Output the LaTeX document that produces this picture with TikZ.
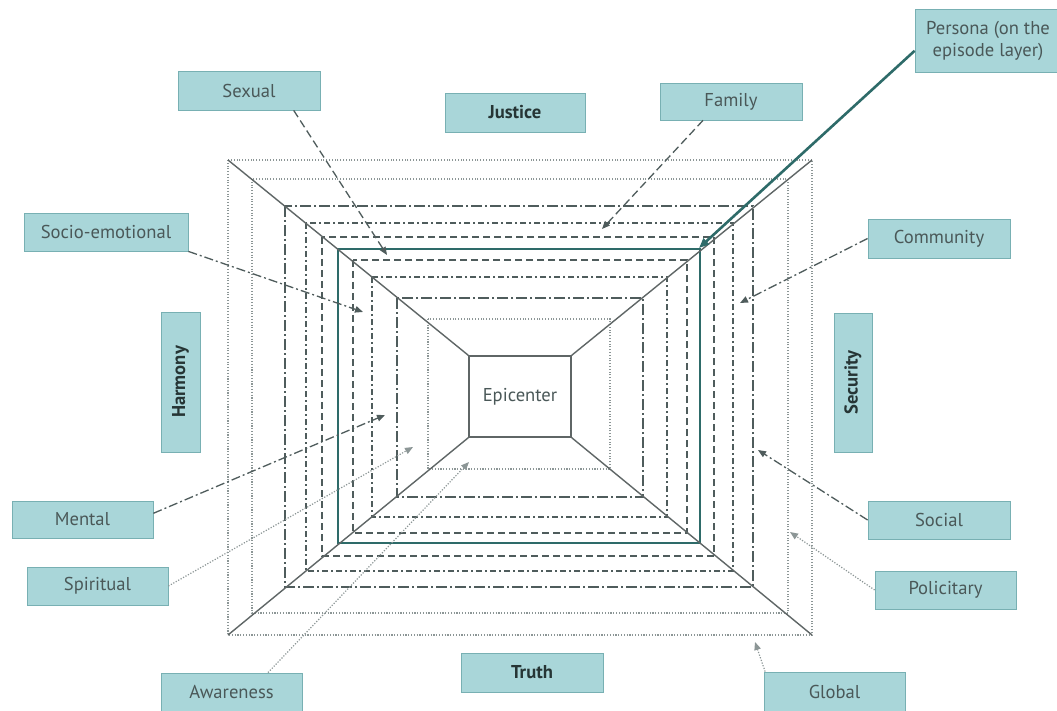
\documentclass[tikz,border=0pt]{standalone}
\usepackage{fontspec}
\setmainfont{PT Sans}
\usetikzlibrary{arrows.meta}
\definecolor{boxfill}{HTML}{A9D6D9}
\definecolor{boxdraw}{HTML}{78B0B3}
\definecolor{txt}{HTML}{4A5858}
\definecolor{txtb}{HTML}{263535}
\definecolor{ln}{HTML}{4F5C5C}
\definecolor{dotc}{HTML}{8C9696}
\definecolor{thickc}{HTML}{2E6B69}
\definecolor{diag}{HTML}{5F6666}
\begin{document}
\begin{tikzpicture}[x=1pt,y=-1pt,
  lbl/.style={draw=boxdraw,fill=boxfill,line width=0.8pt,text=txt,
    font=\fontsize{18.6}{22}\selectfont,inner sep=0pt,align=center},
  blbl/.style={lbl,text=txtb,font=\fontsize{18.6}{22}\selectfont\bfseries},
  dotline/.style={draw=dotc,line width=1.1pt,dash pattern=on 1.1pt off 1.7pt},
  ddlong/.style={draw=ln,line width=1.4pt,dash pattern=on 11pt off 3pt on 2pt off 3pt},
  ddshort/.style={draw=ln,line width=1.4pt,dash pattern=on 6pt off 3pt on 2pt off 3pt},
  dashline/.style={draw=ln,line width=1.4pt,dash pattern=on 7pt off 4pt},
  thickline/.style={draw=thickc,line width=2.8pt},
  diagline/.style={draw=diag,line width=1.4pt},
  tip/.style={-{Triangle[length=8pt,width=6.5pt]}},
  conn/.style={tip,draw=ln,line width=1.3pt},
  cdash/.style={conn,dash pattern=on 8pt off 4pt},
  cdd/.style={conn,dash pattern=on 9pt off 3pt on 2pt off 3pt},
  cdot/.style={tip,draw=dotc,line width=1.2pt,dash pattern=on 1.2pt off 1.6pt}]
\fill[white] (0,0) rectangle (1057,711);
\useasboundingbox (0,0) rectangle (1057,711);

% nested layers
\draw[dotline] (228,160) rectangle (812,635);
\draw[dotline] (252,179) rectangle (788,613);
\draw[ddlong] (285,206) rectangle (753,587);
\draw[ddshort] (306,223) rectangle (733,571);
\draw[dashline] (322,237) rectangle (714,556);
\draw[thickline] (338,249) rectangle (700,543);
\draw[dashline] (353,260) rectangle (687,533);
\draw[ddshort] (372,277) rectangle (667,517);
\draw[ddlong] (397,298) rectangle (643,497);
\draw[dotline] (428,319) rectangle (610,469);

% epicenter and diagonals
\node[draw=diag,line width=1.4pt,fill=white,minimum width=102pt,minimum height=81pt,
  inner sep=0pt,text=txt,font=\fontsize{18.6}{22}\selectfont] (epi) at (520,396.5) {Epicenter};
\coordinate (otl) at (228,160);
\coordinate (otr) at (812,160);
\coordinate (obl) at (228,635);
\coordinate (obr) at (812,635);
\draw[diagline] (otl) -- (epi.north west);
\draw[diagline] (otr) -- (epi.north east);
\draw[diagline] (obl) -- (epi.south west);
\draw[diagline] (obr) -- (epi.south east);

% labels
\node[lbl,minimum width=142pt,minimum height=39pt] (sexual) at (249,90.5) {Sexual};
\node[blbl,minimum width=140pt,minimum height=39pt] (justice) at (515,112.5) {Justice};
\node[lbl,minimum width=142pt,minimum height=37pt] (family) at (731,101.5) {Family};
\node[lbl,minimum width=146pt,minimum height=63pt] (persona) at (988,40.5) {Persona (on the\\episode layer)};
\node[lbl,minimum width=164pt,minimum height=38pt] (socio) at (106,232) {Socio-emotional};
\node[lbl,minimum width=142pt,minimum height=39pt] (community) at (939,238.5) {Community};
\node[blbl,minimum width=140pt,minimum height=39pt,rotate=90] (harmony) at (180.5,382) {Harmony};
\node[blbl,minimum width=139pt,minimum height=38pt,rotate=90] (security) at (853,382.5) {Security};
\node[lbl,minimum width=141pt,minimum height=37pt] (mental) at (82.5,519.5) {Mental};
\node[lbl,minimum width=142pt,minimum height=38pt] (social) at (939,520) {Social};
\node[lbl,minimum width=141pt,minimum height=38pt] (spiritual) at (97.5,586) {Spiritual};
\node[lbl,minimum width=141pt,minimum height=38pt] (policitary) at (945.5,590) {Policitary};
\node[blbl,minimum width=142pt,minimum height=39pt] (truth) at (532,672.5) {Truth};
\node[lbl,minimum width=141pt,minimum height=38pt] (awareness) at (231.5,692) {Awareness};
\node[lbl,minimum width=141pt,minimum height=39pt] (global) at (834.5,691.5) {Global};

% connector targets
\coordinate (tSexual) at (387,255);
\coordinate (tFamily) at (602,229);
\coordinate (tPersona) at (699,248);
\coordinate (tSocio) at (363,312);
\coordinate (tCommunity) at (740,303);
\coordinate (tMental) at (385,415);
\coordinate (tSocial) at (758,450);
\coordinate (tSpiritual) at (413,447);
\coordinate (tPolicitary) at (790,532);
\coordinate (tAwareness) at (469,462);
\coordinate (tGlobal) at (755,642);

% connectors
\draw[cdash] (sexual.-24) -- (tSexual);
\draw[cdash] (family.-146) -- (tFamily);
\draw[thickc,line width=2.6pt,-{Triangle[length=10pt,width=8pt]}] (persona.-172) -- (tPersona);
\draw[cdd] (socio.south east) -- (tSocio);
\draw[cdd] (community.west) -- (tCommunity);
\draw[cdd] (mental.5) -- (tMental);
\draw[cdd] (social.west) -- (tSocial);
\draw[cdot] (spiritual.east) -- (tSpiritual);
\draw[cdot] (policitary.west) -- (tPolicitary);
\draw[cdot] (awareness.28) -- (tAwareness);
\draw[cdot] (global.164) -- (tGlobal);
\end{tikzpicture}
\end{document}
